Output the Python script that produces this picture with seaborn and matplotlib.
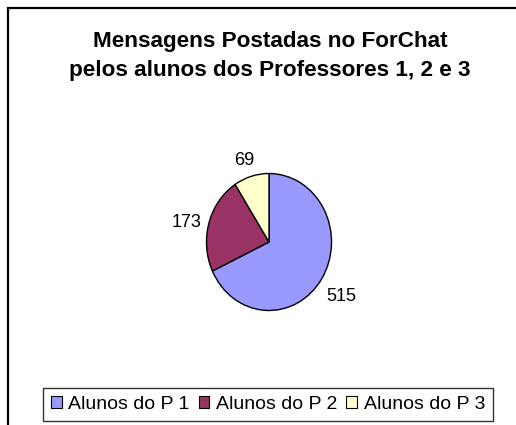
import numpy as np
import matplotlib
matplotlib.use("Agg")
import matplotlib.pyplot as plt
import seaborn as sns
from matplotlib.patches import Rectangle

sns.set_theme(style="white")
plt.rcParams['font.family'] = ['Liberation Sans', 'DejaVu Sans']
plt.rcParams['text.color'] = 'black'

categories = ["Alunos do P 1", "Alunos do P 2", "Alunos do P 3"]
values = [515, 173, 69]
colors = ["#9999FF", "#993366", "#FFFFCC"]
title = "Mensagens Postadas no ForChat\npelos alunos dos Professores 1, 2 e 3"

W, H = 516, 425
fig = plt.figure(figsize=(W / 100, H / 100), dpi=100)
fig.patch.set_facecolor("white")

# outer frame (right/bottom edges fall outside the image)
fig.patches.append(Rectangle((8 / W, -0.1), 1.2, (H - 7.5) / H + 0.1,
                             transform=fig.transFigure, fill=False,
                             edgecolor="black", linewidth=1.6))

fig.text(270 / W, 1 - 56 / H, title, ha="center", va="center",
         fontsize=16.2, fontweight="bold", linespacing=1.5)

cx, cy, rx, ry = 269, 242, 62.5, 68.5
ax = fig.add_axes([(cx - rx) / W, (H - cy - ry) / H, 2 * rx / W, 2 * ry / H])
wedges, _ = ax.pie(values, colors=colors, startangle=90, counterclock=False,
                   wedgeprops=dict(edgecolor="black", linewidth=1.0))
ax.set_aspect("auto")
ax.set_xlim(-1, 1)
ax.set_ylim(-1, 1)
ax.axis("off")

for w, v in zip(wedges, values):
    mid = np.deg2rad((w.theta1 + w.theta2) / 2)
    ux, uy = np.cos(mid), np.sin(mid)
    ax.annotate(str(v), xy=(ux, uy), xytext=(17 * ux, 16 * uy - 4),
                textcoords="offset points", ha="center", va="center",
                fontsize=13, color="black", annotation_clip=False)

leg = fig.legend(wedges, categories, loc="center", ncol=3,
                 bbox_to_anchor=(268 / W, 1 - 404.5 / H), fontsize=14,
                 frameon=True, fancybox=False, handlelength=0.55,
                 handleheight=0.55, handletextpad=0.35, columnspacing=0.45,
                 borderpad=0.42, borderaxespad=0)
leg.get_frame().set_edgecolor("black")
leg.get_frame().set_linewidth(1.0)
for h in leg.legend_handles:
    h.set_edgecolor("black")
    h.set_linewidth(0.8)

fig.savefig("out.png", dpi=100)
